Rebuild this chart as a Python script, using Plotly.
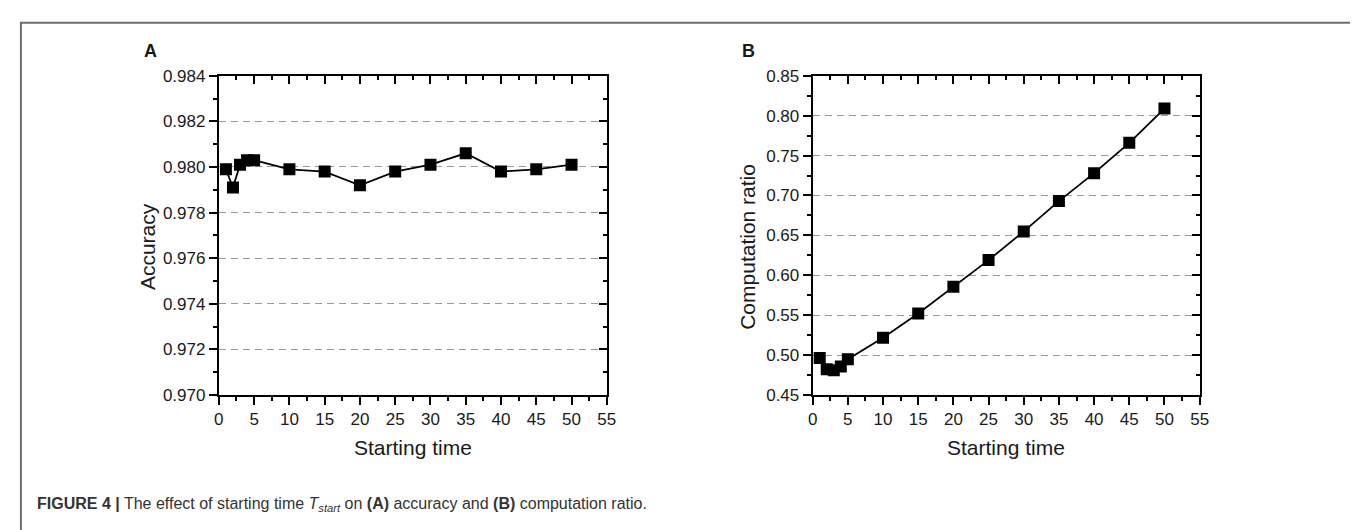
import plotly.graph_objects as go

W, H = 1358, 530

starting_time = [1, 2, 3, 4, 5, 10, 15, 20, 25, 30, 35, 40, 45, 50]
accuracy = [0.9799, 0.9791, 0.9801, 0.9803, 0.9803, 0.9799, 0.9798, 0.9792,
            0.9798, 0.9801, 0.9806, 0.9798, 0.9799, 0.9801]
computation_ratio = [0.4964, 0.4823, 0.4811, 0.4855, 0.4948, 0.5217, 0.552, 0.5855,
                     0.619, 0.655, 0.693, 0.728, 0.766, 0.809]

x_ticks = [0, 5, 10, 15, 20, 25, 30, 35, 40, 45, 50, 55]
acc_ticks = [0.970, 0.972, 0.974, 0.976, 0.978, 0.980, 0.982, 0.984]
ratio_ticks = [0.45, 0.50, 0.55, 0.60, 0.65, 0.70, 0.75, 0.80, 0.85]

FONT = "Liberation Sans, Arial, sans-serif"


def px_x(p):
    return p / W


def px_y(p):
    return 1 - p / H


fig = go.Figure()

marker = dict(symbol="square", size=12, color="black")
line = dict(color="black", width=1.8)

fig.add_trace(go.Scatter(x=starting_time, y=accuracy, mode="lines+markers",
                         marker=marker, line=line, xaxis="x", yaxis="y",
                         showlegend=False))
fig.add_trace(go.Scatter(x=starting_time, y=computation_ratio, mode="lines+markers",
                         marker=marker, line=line, xaxis="x2", yaxis="y2",
                         showlegend=False))

ydom = [px_y(392), px_y(61)]
xdomA = [px_x(208), px_x(600)]
xdomB = [px_x(808), px_x(1199)]

tickfont = dict(family=FONT, size=17, color="#1a1a1a")
titlefont = dict(family=FONT, size=21, color="#1a1a1a")


def xaxis_common(dom, anchor):
    return dict(domain=dom, anchor=anchor, range=[0, 55], tickmode="array",
                tickvals=x_ticks, ticks="outside", ticklen=8, tickwidth=1.8,
                tickcolor="black", showline=True, linecolor="black", linewidth=2,
                showgrid=False, zeroline=False, tickfont=tickfont,
                minor=dict(ticks="outside", ticklen=4, tickwidth=1.8,
                           tickcolor="black", dtick=2.5, tick0=0, showgrid=False))


def yaxis_common(dom, anchor, rng, vals, fmt, dminor):
    return dict(domain=dom, anchor=anchor, range=rng, tickmode="array",
                tickvals=vals, tickformat=fmt, ticks="outside", ticklen=8,
                tickwidth=1.8, tickcolor="black", showline=True, linecolor="black",
                linewidth=2, showgrid=True, gridcolor="#9a9a9a",
                griddash="7px,5px", gridwidth=1.3, zeroline=False, tickfont=tickfont,
                minor=dict(ticks="outside", ticklen=4, tickwidth=1.8,
                           tickcolor="black", dtick=dminor, tick0=rng[0],
                           showgrid=False))


def mirror_x(dom, anchor, over):
    return dict(domain=dom, anchor=anchor, overlaying=over, side="top",
                range=[0, 55], tickmode="array", tickvals=x_ticks, ticks="inside",
                ticklen=8, tickwidth=1.8, tickcolor="black", showline=True,
                linecolor="black", linewidth=2, showgrid=False, zeroline=False,
                showticklabels=False,
                minor=dict(ticks="inside", ticklen=4, tickwidth=1.8,
                           tickcolor="black", dtick=2.5, tick0=0, showgrid=False))


def mirror_y(dom, anchor, over, rng, vals, dminor):
    return dict(domain=dom, anchor=anchor, overlaying=over, side="right",
                range=rng, tickmode="array", tickvals=vals, ticks="inside",
                ticklen=8, tickwidth=1.8, tickcolor="black", showline=True,
                linecolor="black", linewidth=2, showgrid=False, zeroline=False,
                showticklabels=False,
                minor=dict(ticks="inside", ticklen=4, tickwidth=1.8,
                           tickcolor="black", dtick=dminor, tick0=rng[0],
                           showgrid=False))


fig.update_layout(
    width=W, height=H, margin=dict(l=0, r=0, t=0, b=0),
    paper_bgcolor="white", plot_bgcolor="white",
    font=dict(family=FONT, color="#1a1a1a"),
    xaxis=xaxis_common(xdomA, "y"),
    yaxis=yaxis_common(ydom, "x", [0.970, 0.984], acc_ticks, ".3f", 0.001),
    xaxis2=xaxis_common(xdomB, "y2"),
    yaxis2=yaxis_common(ydom, "x2", [0.45, 0.85], ratio_ticks, ".2f", 0.025),
    xaxis3=mirror_x(xdomA, "y", "x"),
    yaxis3=mirror_y(ydom, "x", "y", [0.970, 0.984], acc_ticks, 0.001),
    xaxis4=mirror_x(xdomB, "y2", "x2"),
    yaxis4=mirror_y(ydom, "x2", "y2", [0.45, 0.85], ratio_ticks, 0.025),
)

# invisible traces so the mirror axes render
for xa, ya in (("x3", "y3"), ("x4", "y4")):
    fig.add_trace(go.Scatter(x=[None], y=[None], xaxis=xa, yaxis=ya,
                             showlegend=False, hoverinfo="skip"))

# figure frame
fig.add_shape(type="rect", xref="paper", yref="paper",
              x0=px_x(8), x1=px_x(1356), y0=px_y(545), y1=px_y(6),
              line=dict(color="#6e6e6e", width=2), fillcolor="rgba(0,0,0,0)")


def text_ann(text, x, y, size, angle=0, bold=False, xanchor="center"):
    fig.add_annotation(text=f"<b>{text}</b>" if bold else text,
                       xref="paper", yref="paper", x=px_x(x), y=px_y(y),
                       xanchor=xanchor, yanchor="middle", textangle=angle,
                       showarrow=False,
                       font=dict(family=FONT, size=size, color="#1a1a1a"))


# axis titles
text_ann("Starting time", 404, 447, 21)
text_ann("Starting time", 1003, 447, 21)
text_ann("Accuracy", 136, 238, 21, angle=-90)
text_ann("Computation ratio", 742, 238, 21, angle=-90)

# panel labels
text_ann("A", 130, 35, 18, bold=True, xanchor="left")
text_ann("B", 735, 35, 18, bold=True, xanchor="left")

# caption
fig.add_annotation(
    text="<b>FIGURE 4 |</b> The effect of starting time <i>T</i><sub><i>start</i></sub>"
         " on <b>(A)</b> accuracy and <b>(B)</b> computation ratio.",
    xref="paper", yref="paper", x=px_x(22), y=px_y(506), xanchor="left",
    yanchor="middle", showarrow=False,
    font=dict(family=FONT, size=16, color="#333"))

fig.write_html("out.html")
